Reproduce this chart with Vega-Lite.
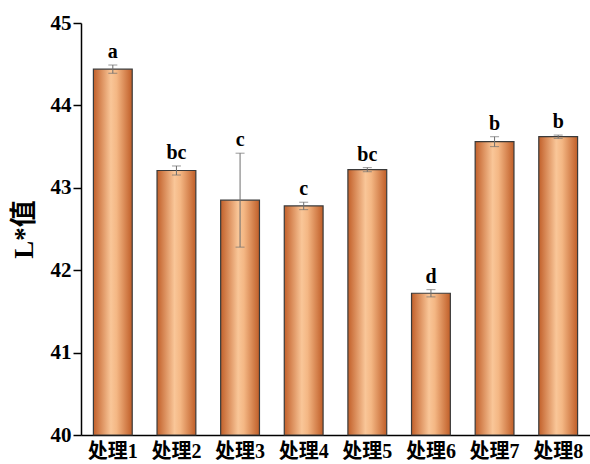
{
  "$schema": "https://vega.github.io/schema/vega-lite/v6.json",
  "width": 509,
  "height": 412,
  "autosize": "none",
  "padding": {"left": 81, "top": 23, "right": 0, "bottom": 29},
  "background": "white",
  "config": {
    "view": {"stroke": null},
    "font": "Liberation Serif"
  },
  "data": {
    "values": [
      {"group": "处理1", "mean": 44.44, "lower": 44.39, "upper": 44.49, "sig": "a"},
      {"group": "处理2", "mean": 43.21, "lower": 43.155, "upper": 43.265, "sig": "bc"},
      {"group": "处理3", "mean": 42.85, "lower": 42.28, "upper": 43.42, "sig": "c"},
      {"group": "处理4", "mean": 42.78, "lower": 42.735, "upper": 42.825, "sig": "c"},
      {"group": "处理5", "mean": 43.22, "lower": 43.195, "upper": 43.245, "sig": "bc"},
      {"group": "处理6", "mean": 41.72, "lower": 41.676, "upper": 41.764, "sig": "d"},
      {"group": "处理7", "mean": 43.56, "lower": 43.5, "upper": 43.62, "sig": "b"},
      {"group": "处理8", "mean": 43.62, "lower": 43.6, "upper": 43.64, "sig": "b"}
    ]
  },
  "encoding": {
    "x": {
      "field": "group",
      "type": "nominal",
      "sort": null,
      "scale": {"paddingInner": 0.39, "paddingOuter": 0.195},
      "axis": {
        "title": null,
        "labelAngle": 0,
        "labelFont": "Liberation Serif, Noto Sans CJK SC",
        "labelFontSize": 20,
        "labelFontWeight": "bold",
        "labelColor": "black",
        "labelPadding": 6,
        "ticks": false,
        "domainColor": "black",
        "domainWidth": 1.5
      }
    }
  },
  "layer": [
    {
      "mark": {
        "type": "bar",
        "stroke": "#3a3a3a",
        "strokeWidth": 1.2,
        "color": {
          "gradient": "linear",
          "x1": 0, "y1": 0, "x2": 1, "y2": 0,
          "stops": [
            {"offset": 0, "color": "#c2602a"},
            {"offset": 0.45, "color": "#f9c698"},
            {"offset": 0.6, "color": "#f4b784"},
            {"offset": 1, "color": "#c05e28"}
          ]
        }
      },
      "encoding": {
        "y": {
          "field": "mean",
          "type": "quantitative",
          "scale": {"domain": [40, 45], "zero": false, "nice": false},
          "axis": {
            "title": "L*值",
            "titleFont": "Liberation Serif, Noto Sans CJK SC",
            "titleFontSize": 27,
            "titleFontWeight": "bold",
            "titleColor": "black",
            "titlePadding": 12,
            "values": [40, 40.5, 41, 41.5, 42, 42.5, 43, 43.5, 44, 44.5, 45],
            "format": "d",
            "labelExpr": "datum.value % 1 === 0 ? datum.label : ''",
            "labelFont": "Liberation Serif",
            "labelFontSize": 21,
            "labelFontWeight": "bold",
            "labelColor": "black",
            "labelPadding": 2,
            "tickSize": {"condition": {"test": "datum.value % 1 === 0", "value": 8}, "value": 6},
            "tickColor": "black",
            "tickWidth": 1.5,
            "domainColor": "black",
            "domainWidth": 1.5,
            "grid": false
          }
        },
        "y2": {"datum": 40}
      }
    },
    {
      "mark": {"type": "rule", "color": "#6e6e6e", "strokeWidth": 1},
      "encoding": {
        "y": {"field": "lower", "type": "quantitative"},
        "y2": {"field": "upper"}
      }
    },
    {
      "mark": {"type": "tick", "color": "#6e6e6e", "thickness": 1, "size": 9},
      "encoding": {"y": {"field": "lower", "type": "quantitative"}}
    },
    {
      "mark": {"type": "tick", "color": "#6e6e6e", "thickness": 1, "size": 9},
      "encoding": {"y": {"field": "upper", "type": "quantitative"}}
    },
    {
      "mark": {
        "type": "text",
        "baseline": "bottom",
        "dy": -3,
        "font": "Liberation Serif",
        "fontSize": 20,
        "fontWeight": "bold",
        "color": "black"
      },
      "encoding": {
        "y": {"field": "upper", "type": "quantitative"},
        "text": {"field": "sig"}
      }
    }
  ]
}
